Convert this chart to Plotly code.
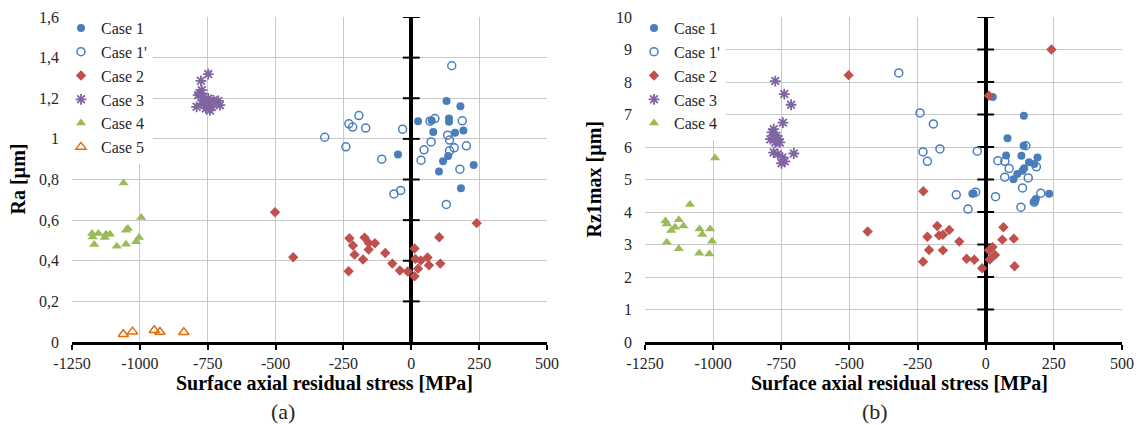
import plotly.graph_objects as go

# ---------------- data: (a) Ra ----------------
a_case1_x = [130, 181, 25, 75, 139, 139, 81, 161, 192, -49, 136, 117, 230, 102, 183]
a_case1_y = [1.187, 1.161, 1.087, 1.09, 1.10, 1.084, 1.034, 1.03, 1.041, 0.923, 0.916, 0.89, 0.872, 0.839, 0.757]

a_case1p_x = [149, -193, -230, -216, -168, -319, -241, -32, -109, -64, -39, 69, 87, 188, 134, 141, 73, 203, 47, 158, 141, 36, 179, 129]
a_case1p_y = [1.36, 1.115, 1.074, 1.058, 1.053, 1.008, 0.961, 1.048, 0.90, 0.729, 0.746, 1.087, 1.10, 1.089, 1.018, 0.994, 0.985, 0.966, 0.946, 0.956, 0.941, 0.895, 0.851, 0.677]

a_case2_x = [-502, -435, 241, -228, -172, -215, -157, -134, -157, -209, -178, -96, -231, -70, -42, -13, 12, 15, 35, 60, 103, 25, 65, 107, 12]
a_case2_y = [0.639, 0.417, 0.585, 0.511, 0.514, 0.475, 0.488, 0.486, 0.455, 0.43, 0.406, 0.438, 0.348, 0.386, 0.352, 0.347, 0.46, 0.409, 0.401, 0.416, 0.516, 0.361, 0.378, 0.386, 0.324]

a_case3_x = [-748, -775, -772, -785, -766, -748, -791, -772, -754, -735, -742, -711, -705, -760, -729, -780, -757]
a_case3_y = [1.319, 1.286, 1.24, 1.215, 1.207, 1.199, 1.158, 1.174, 1.166, 1.158, 1.14, 1.187, 1.166, 1.19, 1.19, 1.225, 1.15]

a_case4_x = [-1060, -995, -1044, -1051, -1176, -1153, -1125, -1110, -1174, -1129, -1003, -1014, -1168, -1085, -1051]
a_case4_y = [0.783, 0.613, 0.559, 0.55, 0.534, 0.534, 0.531, 0.531, 0.517, 0.514, 0.514, 0.493, 0.48, 0.471, 0.481]

a_case5_x = [-1061, -1027, -947, -926, -838]
a_case5_y = [0.038, 0.051, 0.058, 0.049, 0.048]

# ---------------- data: (b) Rz1max ----------------
b_case1_x = [26, 140, 80, 139, 75, 131, 190, 159, 178, 141, 135, 116, 102, -49, -45, 233, 184, 178]
b_case1_y = [7.54, 6.96, 6.27, 6.04, 5.74, 5.73, 5.68, 5.53, 5.48, 5.35, 5.27, 5.17, 5.01, 4.56, 4.57, 4.56, 4.40, 4.32]

b_case1p_x = [-319, -241, -192, -230, -168, -214, -31, 45, 70, 86, 147, 186, 70, 156, 135, 202, -108, -37, 36, -65, 129, 178]
b_case1p_y = [8.28, 7.05, 6.71, 5.85, 5.94, 5.56, 5.87, 5.58, 5.56, 5.34, 6.04, 5.39, 5.07, 5.05, 4.74, 4.58, 4.53, 4.61, 4.47, 4.09, 4.15, 4.30]

b_case2_x = [-503, 241, 12, -229, -433, -178, -214, -171, -157, -134, -97, -208, -157, -230, -70, -42, -13, 65, 61, 103, 25, 12, 34, 15, 106]
b_case2_y = [8.21, 9.0, 7.58, 4.64, 3.40, 3.57, 3.24, 3.28, 3.30, 3.45, 3.09, 2.83, 2.82, 2.47, 2.56, 2.53, 2.27, 3.53, 3.15, 3.18, 2.92, 2.82, 2.68, 2.54, 2.33]

b_case3_x = [-772, -739, -714, -744, -778, -784, -768, -790, -760, -772, -755, -778, -763, -704, -746, -749, -737]
b_case3_y = [8.03, 7.63, 7.30, 6.75, 6.55, 6.45, 6.35, 6.24, 6.24, 6.14, 6.14, 5.83, 5.78, 5.80, 5.68, 5.50, 5.56]

b_case4_x = [-993, -1085, -1175, -1170, -1126, -1140, -1109, -1154, -1050, -1011, -1040, -1170, -1004, -1126, -1051, -1014]
b_case4_y = [5.66, 4.23, 3.72, 3.63, 3.76, 3.53, 3.57, 3.43, 3.48, 3.48, 3.31, 3.07, 3.10, 2.87, 2.73, 2.71]

# ---------------- axis ticks ----------------
x_ticks = [-1250, -1000, -750, -500, -250, 0, 250, 500]
x_ticktext = ["-1250", "-1000", "-750", "-500", "-250", "0", "250", "500"]
a_yticks = [0, 0.2, 0.4, 0.6, 0.8, 1.0, 1.2, 1.4, 1.6]
a_yticktext = ["0", "0,2", "0,4", "0,6", "0,8", "1", "1,2", "1,4", "1,6"]
b_yticks = [0, 1, 2, 3, 4, 5, 6, 7, 8, 9, 10]
b_yticktext = [str(v) for v in b_yticks]

BLUE = "#4A7EBB"
RED = "#C0504D"
PURPLE = "#8064A2"
GREEN = "#9BBB59"
ORANGE = "#E46C0A"
FONT = "Liberation Serif, Times New Roman, serif"
TXT = "#262626"

fig = go.Figure()

def axis_ticks_on_zero(xa, ya, yvals):
    vals = [v for v in yvals if v != 0]
    fig.add_trace(go.Scatter(
        x=[0] * len(vals), y=vals, xaxis=xa, yaxis=ya, mode="markers",
        marker=dict(symbol="line-ew", size=12, line=dict(color="black", width=2)),
        showlegend=False, hoverinfo="skip"))

def series(xs, ys, name, xa, ya, leg, symbol, color, size, filled=True, lw=1.5):
    if filled:
        marker = dict(symbol=symbol, size=size, color=color, line=dict(width=0))
    else:
        marker = dict(symbol=symbol, size=size, color=color, line=dict(color=color, width=lw))
    fig.add_trace(go.Scatter(x=xs, y=ys, name=name, xaxis=xa, yaxis=ya, mode="markers",
                             marker=marker, legend=leg))

axis_ticks_on_zero("x", "y", a_yticks)
axis_ticks_on_zero("x2", "y2", b_yticks)

series(a_case1_x, a_case1_y, "Case 1", "x", "y", "legend", "circle", BLUE, 8)
series(a_case1p_x, a_case1p_y, "Case 1'", "x", "y", "legend", "circle-open", BLUE, 8, filled=False)
series(a_case2_x, a_case2_y, "Case 2", "x", "y", "legend", "diamond", RED, 8)
series(a_case3_x, a_case3_y, "Case 3", "x", "y", "legend", "asterisk-open", PURPLE, 9, filled=False, lw=1.8)
series(a_case4_x, a_case4_y, "Case 4", "x", "y", "legend", "triangle-up", GREEN, 9)
series(a_case5_x, a_case5_y, "Case 5", "x", "y", "legend", "triangle-up-open", ORANGE, 9, filled=False)

series(b_case1_x, b_case1_y, "Case 1", "x2", "y2", "legend2", "circle", BLUE, 8)
series(b_case1p_x, b_case1p_y, "Case 1'", "x2", "y2", "legend2", "circle-open", BLUE, 8, filled=False)
series(b_case2_x, b_case2_y, "Case 2", "x2", "y2", "legend2", "diamond", RED, 8)
series(b_case3_x, b_case3_y, "Case 3", "x2", "y2", "legend2", "asterisk-open", PURPLE, 9, filled=False, lw=1.8)
series(b_case4_x, b_case4_y, "Case 4", "x2", "y2", "legend2", "triangle-up", GREEN, 9)

# page has an 8px body margin: figure coordinates = page coordinates - 8
OFF = 8
W, H = 1143 - 2 * OFF, 425 - OFF
PL, PR, PT, PB = 72, 1122, 17, 342          # plot-area edges in page pixels
ML, MT = PL - OFF, PT - OFF
MR, MB = W - (PR - OFF), H - (PB - OFF)
PW, PH = W - ML - MR, H - MT - MB
dom1 = [0, (547 - PL) / PW]
dom2 = [(645 - PL) / PW, 1]

def px_x_paper(px):
    return (px - PL) / PW

def px_y_paper(py):
    return (PB - py) / PH

common_x = dict(range=[-1250, 500], tickvals=x_ticks, ticktext=x_ticktext,
                showgrid=True, gridcolor="#C8C8C8", gridwidth=1,
                zeroline=True, zerolinecolor="black", zerolinewidth=3.5,
                showline=True, linecolor="black", linewidth=3,
                ticks="outside", ticklen=5, tickwidth=2, tickcolor="black",
                ticklabelstandoff=0,
                tickfont=dict(family=FONT, size=16, color=TXT))
common_y = dict(showgrid=True, gridcolor="#C8C8C8", gridwidth=1, zeroline=False,
                showline=False, ticks="", ticklabelstandoff=12,
                tickfont=dict(family=FONT, size=16, color=TXT))

leg_common = dict(bgcolor="white", borderwidth=0, font=dict(family=FONT, size=16, color=TXT),
                  xanchor="left", yanchor="top", y=px_y_paper(11), tracegroupgap=0)

annotations = [
    dict(text="<b>Surface axial residual stress [MPa]</b>", xref="paper", yref="paper",
         x=px_x_paper(324), y=px_y_paper(383), showarrow=False, xanchor="center", yanchor="middle",
         font=dict(family=FONT, size=20, color="black")),
    dict(text="<b>Surface axial residual stress [MPa]</b>", xref="paper", yref="paper",
         x=px_x_paper(899), y=px_y_paper(383), showarrow=False, xanchor="center", yanchor="middle",
         font=dict(family=FONT, size=20, color="black")),
    dict(text="(a)", xref="paper", yref="paper", x=px_x_paper(283), y=px_y_paper(411),
         showarrow=False, xanchor="center", yanchor="middle",
         font=dict(family=FONT, size=22, color=TXT)),
    dict(text="(b)", xref="paper", yref="paper", x=px_x_paper(875), y=px_y_paper(411),
         showarrow=False, xanchor="center", yanchor="middle",
         font=dict(family=FONT, size=22, color=TXT)),
    dict(text="<b>Ra [µm]</b>", xref="paper", yref="paper", x=px_x_paper(18), y=0.5,
         textangle=-90, showarrow=False, xanchor="center", yanchor="middle",
         font=dict(family=FONT, size=20, color="black")),
    dict(text="<b>Rz1max [µm]</b>", xref="paper", yref="paper", x=px_x_paper(594), y=0.5,
         textangle=-90, showarrow=False, xanchor="center", yanchor="middle",
         font=dict(family=FONT, size=20, color="black")),
]

fig.update_layout(
    width=W, height=H,
    margin=dict(l=ML, r=MR, t=MT, b=MB, pad=0, autoexpand=False),
    paper_bgcolor="white", plot_bgcolor="white",
    xaxis=dict(domain=dom1, anchor="y", **common_x),
    yaxis=dict(domain=[0, 1], anchor="x", range=[0, 1.6], tickvals=a_yticks, ticktext=a_yticktext, **common_y),
    xaxis2=dict(domain=dom2, anchor="y2", **common_x),
    yaxis2=dict(domain=[0, 1], anchor="x2", range=[0, 10], tickvals=b_yticks, ticktext=b_yticktext, **common_y),
    legend=dict(x=px_x_paper(61), **leg_common),
    legend2=dict(x=px_x_paper(634), **leg_common),
    annotations=annotations,
    showlegend=True,
)

fig.write_html("out.html")
